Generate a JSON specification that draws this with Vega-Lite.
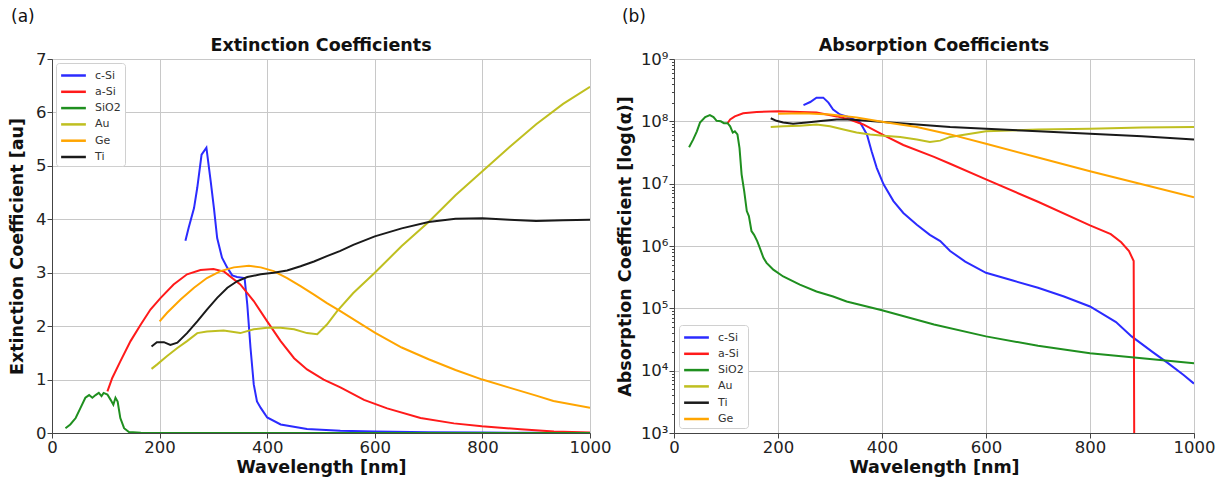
{
  "$schema": "https://vega.github.io/schema/vega-lite/v6.json",
  "background": "white",
  "padding": {"left": 8, "top": 8, "right": 0, "bottom": 0},
  "spacing": 3,
  "config": {
    "font": "DejaVu Sans",
    "view": {"stroke": "#444", "strokeWidth": 1},
    "axis": {"labelFontSize": 16.5, "titleFontSize": 17.5, "titleFontWeight": "bold", "labelColor": "#222", "titleColor": "#111", "domainColor": "#444", "tickColor": "#444", "gridColor": "#c8c8c8", "gridWidth": 1, "tickSize": 5, "labelFlush": false, "labelOverlap": false, "labelPadding": 1},
    "title": {"fontSize": 17.5, "fontWeight": "bold", "color": "#111"},
    "legend": {"symbolType": "M-1.75,0H1.75", "symbolSize": 200, "symbolStrokeWidth": 2.5, "symbolOffset": 5, "labelFontSize": 11, "labelColor": "#333", "rowPadding": 2.3, "padding": 4, "strokeColor": "#d0d0d0", "fillColor": "white", "cornerRadius": 3, "labelOffset": 13, "offset": 4}
  },
  "datasets": {
    "ext": [
      {"m":"c-Si","w":248,"v":3.60},{"m":"c-Si","w":254,"v":3.84},{"m":"c-Si","w":264,"v":4.21},{"m":"c-Si","w":270,"v":4.59},{"m":"c-Si","w":278,"v":5.21},{"m":"c-Si","w":287,"v":5.34},{"m":"c-Si","w":295,"v":4.71},{"m":"c-Si","w":301,"v":4.21},{"m":"c-Si","w":307,"v":3.65},{"m":"c-Si","w":316,"v":3.28},{"m":"c-Si","w":326,"v":3.09},{"m":"c-Si","w":335,"v":2.95},{"m":"c-Si","w":344,"v":2.92},{"m":"c-Si","w":358,"v":2.90},{"m":"c-Si","w":363,"v":2.40},{"m":"c-Si","w":369,"v":1.59},{"m":"c-Si","w":375,"v":0.91},{"m":"c-Si","w":381,"v":0.59},{"m":"c-Si","w":388,"v":0.47},{"m":"c-Si","w":400,"v":0.29},{"m":"c-Si","w":425,"v":0.16},{"m":"c-Si","w":474,"v":0.075},{"m":"c-Si","w":536,"v":0.044},{"m":"c-Si","w":600,"v":0.03},{"m":"c-Si","w":700,"v":0.015},{"m":"c-Si","w":800,"v":0.008},{"m":"c-Si","w":900,"v":0.004},{"m":"c-Si","w":1000,"v":0.002},
      {"m":"a-Si","w":103,"v":0.78},{"m":"a-Si","w":112,"v":1.03},{"m":"a-Si","w":127,"v":1.34},{"m":"a-Si","w":146,"v":1.72},{"m":"a-Si","w":165,"v":2.03},{"m":"a-Si","w":183,"v":2.31},{"m":"a-Si","w":202,"v":2.53},{"m":"a-Si","w":226,"v":2.78},{"m":"a-Si","w":251,"v":2.97},{"m":"a-Si","w":276,"v":3.05},{"m":"a-Si","w":300,"v":3.07},{"m":"a-Si","w":320,"v":3.02},{"m":"a-Si","w":350,"v":2.78},{"m":"a-Si","w":375,"v":2.47},{"m":"a-Si","w":400,"v":2.09},{"m":"a-Si","w":425,"v":1.72},{"m":"a-Si","w":450,"v":1.40},{"m":"a-Si","w":474,"v":1.19},{"m":"a-Si","w":505,"v":1.00},{"m":"a-Si","w":536,"v":0.855},{"m":"a-Si","w":580,"v":0.62},{"m":"a-Si","w":623,"v":0.46},{"m":"a-Si","w":685,"v":0.28},{"m":"a-Si","w":747,"v":0.18},{"m":"a-Si","w":799,"v":0.125},{"m":"a-Si","w":871,"v":0.07},{"m":"a-Si","w":933,"v":0.03},{"m":"a-Si","w":1000,"v":0.01},
      {"m":"SiO2","w":25,"v":0.09},{"m":"SiO2","w":34,"v":0.16},{"m":"SiO2","w":44,"v":0.28},{"m":"SiO2","w":53,"v":0.47},{"m":"SiO2","w":62,"v":0.66},{"m":"SiO2","w":69,"v":0.71},{"m":"SiO2","w":75,"v":0.66},{"m":"SiO2","w":81,"v":0.71},{"m":"SiO2","w":87,"v":0.75},{"m":"SiO2","w":92,"v":0.69},{"m":"SiO2","w":96,"v":0.75},{"m":"SiO2","w":103,"v":0.72},{"m":"SiO2","w":109,"v":0.62},{"m":"SiO2","w":114,"v":0.53},{"m":"SiO2","w":118,"v":0.66},{"m":"SiO2","w":122,"v":0.59},{"m":"SiO2","w":127,"v":0.28},{"m":"SiO2","w":134,"v":0.09},{"m":"SiO2","w":143,"v":0.02},{"m":"SiO2","w":165,"v":0.003},{"m":"SiO2","w":300,"v":0.001},{"m":"SiO2","w":1000,"v":0.0},
      {"m":"Au","w":185,"v":1.20},{"m":"Au","w":195,"v":1.28},{"m":"Au","w":214,"v":1.44},{"m":"Au","w":233,"v":1.59},{"m":"Au","w":251,"v":1.72},{"m":"Au","w":270,"v":1.87},{"m":"Au","w":288,"v":1.90},{"m":"Au","w":319,"v":1.92},{"m":"Au","w":350,"v":1.87},{"m":"Au","w":375,"v":1.94},{"m":"Au","w":400,"v":1.97},{"m":"Au","w":425,"v":1.97},{"m":"Au","w":450,"v":1.94},{"m":"Au","w":474,"v":1.87},{"m":"Au","w":493,"v":1.85},{"m":"Au","w":511,"v":2.03},{"m":"Au","w":530,"v":2.28},{"m":"Au","w":560,"v":2.62},{"m":"Au","w":600,"v":3.0},{"m":"Au","w":650,"v":3.5},{"m":"Au","w":700,"v":3.95},{"m":"Au","w":750,"v":4.45},{"m":"Au","w":800,"v":4.9},{"m":"Au","w":850,"v":5.35},{"m":"Au","w":900,"v":5.78},{"m":"Au","w":950,"v":6.16},{"m":"Au","w":1000,"v":6.48},
      {"m":"Ge","w":200,"v":2.09},{"m":"Ge","w":214,"v":2.25},{"m":"Ge","w":239,"v":2.50},{"m":"Ge","w":264,"v":2.72},{"m":"Ge","w":288,"v":2.90},{"m":"Ge","w":313,"v":3.03},{"m":"Ge","w":338,"v":3.10},{"m":"Ge","w":366,"v":3.13},{"m":"Ge","w":388,"v":3.10},{"m":"Ge","w":412,"v":3.03},{"m":"Ge","w":437,"v":2.90},{"m":"Ge","w":462,"v":2.75},{"m":"Ge","w":487,"v":2.59},{"m":"Ge","w":511,"v":2.43},{"m":"Ge","w":536,"v":2.28},{"m":"Ge","w":600,"v":1.88},{"m":"Ge","w":650,"v":1.6},{"m":"Ge","w":700,"v":1.38},{"m":"Ge","w":750,"v":1.18},{"m":"Ge","w":800,"v":1.0},{"m":"Ge","w":850,"v":0.85},{"m":"Ge","w":900,"v":0.7},{"m":"Ge","w":932,"v":0.6},{"m":"Ge","w":1000,"v":0.47},
      {"m":"Ti","w":185,"v":1.62},{"m":"Ti","w":195,"v":1.70},{"m":"Ti","w":208,"v":1.70},{"m":"Ti","w":220,"v":1.65},{"m":"Ti","w":233,"v":1.69},{"m":"Ti","w":251,"v":1.87},{"m":"Ti","w":270,"v":2.09},{"m":"Ti","w":288,"v":2.31},{"m":"Ti","w":307,"v":2.53},{"m":"Ti","w":326,"v":2.72},{"m":"Ti","w":344,"v":2.84},{"m":"Ti","w":363,"v":2.92},{"m":"Ti","w":388,"v":2.97},{"m":"Ti","w":412,"v":3.00},{"m":"Ti","w":437,"v":3.04},{"m":"Ti","w":462,"v":3.12},{"m":"Ti","w":487,"v":3.21},{"m":"Ti","w":511,"v":3.31},{"m":"Ti","w":536,"v":3.41},{"m":"Ti","w":560,"v":3.52},{"m":"Ti","w":600,"v":3.68},{"m":"Ti","w":650,"v":3.83},{"m":"Ti","w":700,"v":3.95},{"m":"Ti","w":750,"v":4.01},{"m":"Ti","w":800,"v":4.02},{"m":"Ti","w":850,"v":3.99},{"m":"Ti","w":900,"v":3.97},{"m":"Ti","w":950,"v":3.98},{"m":"Ti","w":1000,"v":3.99}
    ],
    "abs": [
      {"m":"c-Si","w":249,"v":1.82e8},{"m":"c-Si","w":262,"v":2.04e8},{"m":"c-Si","w":274,"v":2.40e8},{"m":"c-Si","w":287,"v":2.40e8},{"m":"c-Si","w":297,"v":2.00e8},{"m":"c-Si","w":306,"v":1.55e8},{"m":"c-Si","w":319,"v":1.29e8},{"m":"c-Si","w":338,"v":1.15e8},{"m":"c-Si","w":358,"v":9.55e7},{"m":"c-Si","w":371,"v":6.17e7},{"m":"c-Si","w":380,"v":3.31e7},{"m":"c-Si","w":390,"v":1.78e7},{"m":"c-Si","w":403,"v":9.77e6},{"m":"c-Si","w":422,"v":5.25e6},{"m":"c-Si","w":441,"v":3.39e6},{"m":"c-Si","w":467,"v":2.19e6},{"m":"c-Si","w":492,"v":1.51e6},{"m":"c-Si","w":512,"v":1.20e6},{"m":"c-Si","w":531,"v":8.32e5},{"m":"c-Si","w":560,"v":5.62e5},{"m":"c-Si","w":600,"v":3.72e5},{"m":"c-Si","w":650,"v":2.82e5},{"m":"c-Si","w":700,"v":2.14e5},{"m":"c-Si","w":750,"v":1.55e5},{"m":"c-Si","w":800,"v":1.07e5},{"m":"c-Si","w":850,"v":6.03e4},{"m":"c-Si","w":880,"v":3.55e4},{"m":"c-Si","w":920,"v":2.0e4},{"m":"c-Si","w":950,"v":1.32e4},{"m":"c-Si","w":980,"v":8.5e3},{"m":"c-Si","w":1000,"v":6.2e3},
      {"m":"a-Si","w":103,"v":9.33e7},{"m":"a-Si","w":108,"v":1.07e8},{"m":"a-Si","w":117,"v":1.20e8},{"m":"a-Si","w":133,"v":1.35e8},{"m":"a-Si","w":159,"v":1.41e8},{"m":"a-Si","w":201,"v":1.45e8},{"m":"a-Si","w":242,"v":1.41e8},{"m":"a-Si","w":274,"v":1.38e8},{"m":"a-Si","w":313,"v":1.20e8},{"m":"a-Si","w":338,"v":1.07e8},{"m":"a-Si","w":364,"v":8.91e7},{"m":"a-Si","w":403,"v":6.0e7},{"m":"a-Si","w":441,"v":4.17e7},{"m":"a-Si","w":500,"v":2.69e7},{"m":"a-Si","w":531,"v":2.09e7},{"m":"a-Si","w":600,"v":1.17e7},{"m":"a-Si","w":700,"v":5.13e6},{"m":"a-Si","w":800,"v":2.14e6},{"m":"a-Si","w":840,"v":1.55e6},{"m":"a-Si","w":860,"v":1.15e6},{"m":"a-Si","w":875,"v":8.3e5},{"m":"a-Si","w":884,"v":5.75e5},{"m":"a-Si","w":885,"v":1000},
      {"m":"SiO2","w":29,"v":3.85e7},{"m":"SiO2","w":37,"v":5.13e7},{"m":"SiO2","w":44,"v":6.92e7},{"m":"SiO2","w":50,"v":9.55e7},{"m":"SiO2","w":60,"v":1.17e8},{"m":"SiO2","w":69,"v":1.26e8},{"m":"SiO2","w":76,"v":1.17e8},{"m":"SiO2","w":82,"v":1.02e8},{"m":"SiO2","w":90,"v":1.0e8},{"m":"SiO2","w":96,"v":9.33e7},{"m":"SiO2","w":103,"v":9.33e7},{"m":"SiO2","w":108,"v":8.32e7},{"m":"SiO2","w":113,"v":6.61e7},{"m":"SiO2","w":117,"v":6.92e7},{"m":"SiO2","w":122,"v":6.17e7},{"m":"SiO2","w":126,"v":3.72e7},{"m":"SiO2","w":130,"v":1.41e7},{"m":"SiO2","w":135,"v":7.59e6},{"m":"SiO2","w":140,"v":3.63e6},{"m":"SiO2","w":144,"v":3.02e6},{"m":"SiO2","w":149,"v":1.74e6},{"m":"SiO2","w":154,"v":1.51e6},{"m":"SiO2","w":160,"v":1.20e6},{"m":"SiO2","w":165,"v":9.33e5},{"m":"SiO2","w":172,"v":6.46e5},{"m":"SiO2","w":178,"v":5.37e5},{"m":"SiO2","w":191,"v":4.17e5},{"m":"SiO2","w":210,"v":3.24e5},{"m":"SiO2","w":242,"v":2.40e5},{"m":"SiO2","w":274,"v":1.86e5},{"m":"SiO2","w":306,"v":1.55e5},{"m":"SiO2","w":332,"v":1.29e5},{"m":"SiO2","w":400,"v":9.33e4},{"m":"SiO2","w":500,"v":5.5e4},{"m":"SiO2","w":600,"v":3.55e4},{"m":"SiO2","w":700,"v":2.51e4},{"m":"SiO2","w":800,"v":1.91e4},{"m":"SiO2","w":900,"v":1.58e4},{"m":"SiO2","w":1000,"v":1.32e4},
      {"m":"Au","w":186,"v":8.13e7},{"m":"Au","w":210,"v":8.32e7},{"m":"Au","w":242,"v":8.51e7},{"m":"Au","w":274,"v":8.91e7},{"m":"Au","w":300,"v":8.32e7},{"m":"Au","w":326,"v":7.41e7},{"m":"Au","w":351,"v":6.61e7},{"m":"Au","w":377,"v":6.17e7},{"m":"Au","w":403,"v":5.89e7},{"m":"Au","w":435,"v":5.62e7},{"m":"Au","w":467,"v":5.13e7},{"m":"Au","w":492,"v":4.68e7},{"m":"Au","w":512,"v":4.90e7},{"m":"Au","w":531,"v":5.62e7},{"m":"Au","w":600,"v":6.92e7},{"m":"Au","w":700,"v":7.41e7},{"m":"Au","w":800,"v":7.59e7},{"m":"Au","w":900,"v":7.94e7},{"m":"Au","w":1000,"v":8.13e7},
      {"m":"Ti","w":186,"v":1.12e8},{"m":"Ti","w":197,"v":1.02e8},{"m":"Ti","w":210,"v":9.55e7},{"m":"Ti","w":229,"v":9.12e7},{"m":"Ti","w":255,"v":9.55e7},{"m":"Ti","w":287,"v":1.02e8},{"m":"Ti","w":313,"v":1.07e8},{"m":"Ti","w":338,"v":1.07e8},{"m":"Ti","w":371,"v":1.02e8},{"m":"Ti","w":403,"v":9.77e7},{"m":"Ti","w":467,"v":8.91e7},{"m":"Ti","w":531,"v":8.13e7},{"m":"Ti","w":600,"v":7.59e7},{"m":"Ti","w":700,"v":6.92e7},{"m":"Ti","w":800,"v":6.31e7},{"m":"Ti","w":900,"v":5.75e7},{"m":"Ti","w":1000,"v":5.13e7},
      {"m":"Ge","w":200,"v":1.32e8},{"m":"Ge","w":250,"v":1.35e8},{"m":"Ge","w":300,"v":1.29e8},{"m":"Ge","w":351,"v":1.15e8},{"m":"Ge","w":403,"v":9.77e7},{"m":"Ge","w":467,"v":8.13e7},{"m":"Ge","w":531,"v":6.17e7},{"m":"Ge","w":600,"v":4.37e7},{"m":"Ge","w":700,"v":2.63e7},{"m":"Ge","w":800,"v":1.58e7},{"m":"Ge","w":900,"v":9.77e6},{"m":"Ge","w":1000,"v":6.03e6}
    ]
  },
  "resolve": {"scale": {"color": "independent"}, "legend": {"color": "independent"}},
  "hconcat": [
    {
      "title": {"text": "(a)", "anchor": "start", "fontSize": 17, "fontWeight": "normal", "offset": 10, "dx": 3},
      "resolve": {"scale": {"color": "independent"}, "legend": {"color": "independent"}},
      "vconcat": [
        {
          "title": {"text": "Extinction Coefficients", "offset": -3},
          "width": 538,
          "height": 374,
          "data": {"name": "ext"},
          "mark": {"type": "line", "strokeWidth": 2, "clip": true},
          "encoding": {
            "x": {"field": "w", "type": "quantitative", "scale": {"domain": [0, 1000], "nice": false}, "axis": {"values": [0, 200, 400, 600, 800, 1000], "format": "d", "title": "Wavelength [nm]", "titlePadding": 3}},
            "y": {"field": "v", "type": "quantitative", "scale": {"domain": [0, 7], "nice": false}, "axis": {"values": [0, 1, 2, 3, 4, 5, 6, 7], "title": "Extinction Coefficient [au]", "titlePadding": 9}},
            "color": {"field": "m", "type": "nominal", "scale": {"domain": ["c-Si", "a-Si", "SiO2", "Au", "Ge", "Ti"], "range": ["#2b2bff", "#ff1a1a", "#1f8f1f", "#bfbf20", "#ffa500", "#1a1a1a"]}, "legend": {"title": null, "orient": "top-left"}}
          }
        }
      ]
    },
    {
      "title": {"text": "(b)", "anchor": "start", "fontSize": 17, "fontWeight": "normal", "offset": 10, "dx": 6},
      "resolve": {"scale": {"color": "independent"}, "legend": {"color": "independent"}},
      "vconcat": [
        {
          "title": {"text": "Absorption Coefficients", "offset": -3},
          "width": 520,
          "height": 374,
          "data": {"name": "abs"},
          "resolve": {"axis": {"y": "independent"}},
          "layer": [
            {
              "mark": {"type": "line", "strokeWidth": 2, "clip": true},
              "encoding": {
                "x": {"field": "w", "type": "quantitative", "scale": {"domain": [0, 1000], "nice": false}, "axis": {"values": [0, 200, 400, 600, 800, 1000], "format": "d", "title": "Wavelength [nm]", "titlePadding": 3}},
                "y": {"field": "v", "type": "quantitative", "scale": {"type": "log", "domain": [1000, 1000000000], "nice": false}, "axis": {"values": [1000, 10000, 100000, 1000000, 10000000, 100000000, 1000000000], "labelExpr": "'10' + ['⁰','¹','²','³','⁴','⁵','⁶','⁷','⁸','⁹'][round(log(datum.value)/LN10)]", "title": "Absorption Coefficient [log(α)]", "titlePadding": 6}},
                "color": {"field": "m", "type": "nominal", "scale": {"domain": ["c-Si", "a-Si", "SiO2", "Au", "Ti", "Ge"], "range": ["#2b2bff", "#ff1a1a", "#1f8f1f", "#bfbf20", "#1a1a1a", "#ffa500"]}, "legend": {"title": null, "orient": "bottom-left", "offset": 5}}
              }
            },
            {
              "mark": {"type": "point", "opacity": 0},
              "encoding": {
                "x": {"field": "w", "type": "quantitative", "scale": {"domain": [0, 1000], "nice": false}},
                "y": {"field": "v", "type": "quantitative", "scale": {"type": "log", "domain": [1000, 1000000000], "nice": false}, "axis": {"orient": "left", "values": [2000,3000,4000,5000,6000,7000,8000,9000,20000,30000,40000,50000,60000,70000,80000,90000,200000,300000,400000,500000,600000,700000,800000,900000,2000000,3000000,4000000,5000000,6000000,7000000,8000000,9000000,20000000,30000000,40000000,50000000,60000000,70000000,80000000,90000000,200000000,300000000,400000000,500000000,600000000,700000000,800000000,900000000], "labels": false, "grid": false, "domain": false, "tickSize": 2.5, "title": null}}
              }
            }
          ]
        }
      ]
    }
  ]
}
